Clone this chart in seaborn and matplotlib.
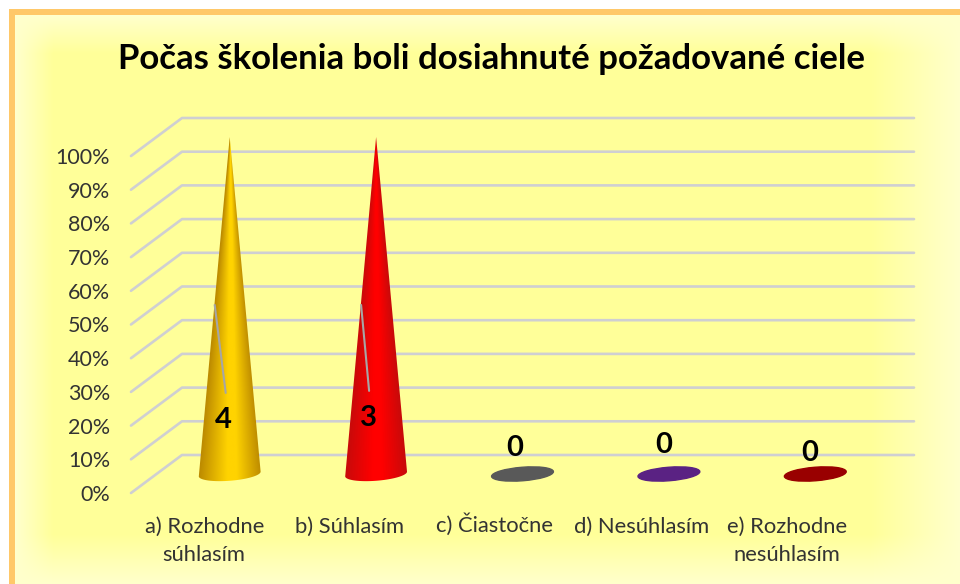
import numpy as np
import pandas as pd
import matplotlib.pyplot as plt
import seaborn as sns
from matplotlib.colors import LinearSegmentedColormap
from matplotlib.patches import Polygon, Ellipse
from matplotlib.transforms import Affine2D, IdentityTransform

categories = ["a) Rozhodne\nsúhlasím", "b) Súhlasím", "c) Čiastočne", "d) Nesúhlasím", "e) Rozhodne\nnesúhlasím"]
counts = [4, 3, 0, 0, 0]
shares = [100, 100, 0, 0, 0]
title = "Počas školenia boli dosiahnuté požadované ciele"
percent_ticks = [0, 10, 20, 30, 40, 50, 60, 70, 80, 90, 100]

edge_colors = ["#BC8A00", "#C80A0A", "#595959", "#5A2283", "#990000"]
mid_colors = ["#FFD300", "#FF0000", "#595959", "#5A2283", "#990000"]

# offsets of the labels from the cone centre, in px and in percent
label_dx = [-6, -8, -8, -5, -6]
label_y = [21.7, 22.2, 13.3, 14.2, 11.9]
leader_dx = [(-15, -4), (-15, -7)]
leader_y = [(55.8, 29.7), (55.8, 30.3)]
tick_shift = [(0, 0), (-1, 0), (-3, 3), (-2, 0), (-3, 0)]

W, H = 960, 584
CAT_PX = 146.4
PCT_PX = 3.37
DEPTH_X = 51 / CAT_PX
DEPTH_Y = 38 / PCT_PX
BASE_W, BASE_H, TILT = 62, 13.5, 4.5

sns.set_theme(style="white")
plt.rcParams["font.family"] = ["Lato", "DejaVu Sans"]

fig = plt.figure(figsize=(W / 100, H / 100), dpi=100, facecolor="white")

# panel background
bg = fig.add_axes([0, 0, 1, 1], zorder=0)
yy, xx = np.mgrid[0:H, 0:W]
fade = (np.clip((xx - 15) / 38, 0, 1) * np.clip((yy - 15) / 38, 0, 1)
        * np.clip((W - xx) / 90, 0, 1) * np.clip((H - yy) / 50, 0, 1))
blue = 205 + (153 - 205) * fade
img = np.dstack([np.full((H, W), 255.0), np.full((H, W), 255.0), blue]) / 255
img[:9, :] = 1
img[:, :9] = 1
img[9:15, 9:] = np.array([255, 200, 105]) / 255
img[9:, 9:15] = np.array([255, 200, 105]) / 255
bg.imshow(img, aspect="auto", interpolation="nearest")
bg.axis("off")

ax = fig.add_axes([131 / W, 1 - 493 / H, 732 / W, 337 / H], zorder=1)
ax.patch.set_alpha(0)

df = pd.DataFrame({"answer": categories, "share": shares})
sns.barplot(data=df, x="answer", y="share", width=62 / CAT_PX, color="white", ax=ax, zorder=1)
ax.set_xlim(-0.5, 4.5)
ax.set_ylim(0, 100)
sns.despine(ax=ax, left=True, bottom=True)
ax.set_xlabel("")
ax.set_ylabel("")
ax.set_yticks(percent_ticks)
ax.set_yticklabels([str(p) + "%" for p in percent_ticks])
ax.tick_params(axis="y", length=0, pad=15, labelsize=15.5, labelcolor="#333333")
ax.tick_params(axis="x", length=0, pad=17, labelsize=15.8, labelcolor="#333333")
for lab, (dx, dy) in zip(ax.get_xticklabels(), tick_shift):
    lab.set_linespacing(1.5)
    lab.set_transform(lab.get_transform() + Affine2D().translate(dx, dy))

# floor and back wall lines
for p in percent_ticks:
    ax.plot([-0.5, -0.5 + DEPTH_X, 4.5 + DEPTH_X], [p, p + DEPTH_Y, p + DEPTH_Y],
            color="#CFCFD2", lw=1.9, clip_on=False, zorder=0.5)


def draw_cone(bar, edge, mid):
    cx = bar.get_x() + bar.get_width() / 2 + DEPTH_X / 2
    h = bar.get_height()
    x0, y0 = ax.transData.transform((cx, DEPTH_Y / 2))
    if h == 0:
        disc = Ellipse((0, 0), BASE_W, BASE_H, angle=TILT, color=mid,
                       transform=Affine2D().translate(x0, y0))
        ax.add_patch(disc)
        return
    tip_x, tip_y = ax.transData.transform((cx, h + DEPTH_Y / 2))
    t = np.radians(np.linspace(180, 360, 60))
    a = np.radians(TILT)
    ex = BASE_W / 2 * np.cos(t) * np.cos(a) - BASE_H / 2 * np.sin(t) * np.sin(a)
    ey = BASE_W / 2 * np.cos(t) * np.sin(a) + BASE_H / 2 * np.sin(t) * np.cos(a)
    pts = np.column_stack([x0 + ex, y0 + ey])
    outline = Polygon(np.vstack([[tip_x, tip_y], pts]), closed=True, transform=IdentityTransform(),
                      fc="none", ec="none")
    ax.add_patch(outline)
    # shading across the width, narrowing to the tip
    left, right = x0 - BASE_W / 2 - 2, x0 + BASE_W / 2 + 2
    bottom, top = y0 - BASE_H, tip_y
    px = np.linspace(left, right, 160)
    py = np.linspace(top, bottom, 400)
    gx, gy = np.meshgrid(px, py)
    half = np.maximum((tip_y - gy) / (tip_y - y0) * BASE_W / 2, 0.4)
    u = np.clip((gx - tip_x) / half, -1, 1) * 0.5 + 0.5
    cmap = LinearSegmentedColormap.from_list("cone", [(0, edge), (0.45, mid), (0.6, mid), (1, edge)])
    lo = ax.transData.inverted().transform((left, bottom))
    hi = ax.transData.inverted().transform((right, top))
    im = ax.imshow(cmap(u), extent=[lo[0], hi[0], lo[1], hi[1]], aspect="auto", zorder=2)
    im.set_clip_path(outline)
    im.set_clip_box(fig.bbox)


for bar, edge, mid in zip(ax.patches, edge_colors, mid_colors):
    bar.set_visible(False)
    draw_cone(bar, edge, mid)
ax.set_xlim(-0.5, 4.5)
ax.set_ylim(0, 100)

# data labels and their leader lines
for i, n in enumerate(counts):
    cx = i + DEPTH_X / 2
    ax.text(cx + label_dx[i] / CAT_PX, label_y[i], str(n), ha="center", va="center",
            fontsize=21, fontweight="bold", color="black", zorder=4)
for i in range(len(leader_y)):
    cx = i + DEPTH_X / 2
    ax.plot([cx + leader_dx[i][0] / CAT_PX, cx + leader_dx[i][1] / CAT_PX], leader_y[i],
            color="#A6A6A6", lw=1.5, zorder=3)

fig.suptitle(title, x=491 / W, y=1 - 59 / H, ha="center", va="center",
             fontsize=25, fontweight="bold", color="black")

fig.savefig("out.png", dpi=100)
